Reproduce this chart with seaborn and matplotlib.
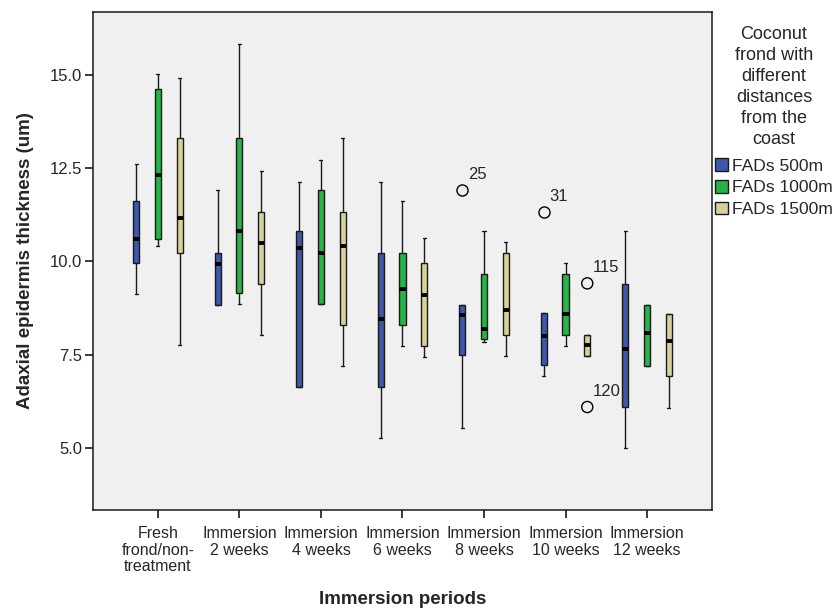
import pandas as pd
import matplotlib.pyplot as plt
import matplotlib.patches as mpatches
import seaborn as sns

periods = [
    "Fresh\nfrond/non-\ntreatment",
    "Immersion\n2 weeks",
    "Immersion\n4 weeks",
    "Immersion\n6 weeks",
    "Immersion\n8 weeks",
    "Immersion\n10 weeks",
    "Immersion\n12 weeks",
]
distances = ["FADs 500m", "FADs 1000m", "FADs 1500m"]
colors = ["#3F57A8", "#25B445", "#D6D19B"]
legend_title = "Coconut\nfrond with\ndifferent\ndistances\nfrom the\ncoast"

# five-number summaries per period: min, Q1, median, Q3, max (whisker ends)
fads_500 = [
    [9.13, 9.95, 10.61, 11.61, 12.61],
    [8.83, 8.83, 9.94, 10.23, 11.91],
    [6.63, 6.63, 10.37, 10.81, 12.12],
    [5.27, 6.63, 8.45, 10.22, 12.12],
    [5.55, 7.49, 8.57, 8.84, 8.84],
    [6.92, 7.22, 8.01, 8.61, 8.61],
    [5.00, 6.09, 7.64, 9.40, 10.81],
]
fads_1000 = [
    [10.41, 10.61, 12.31, 14.61, 15.01],
    [8.85, 9.14, 10.81, 13.30, 15.81],
    [8.85, 8.85, 10.22, 11.91, 12.71],
    [7.74, 8.29, 9.25, 10.22, 11.62],
    [7.84, 7.92, 8.18, 9.67, 10.81],
    [7.74, 8.02, 8.59, 9.67, 9.95],
    [7.20, 7.20, 8.07, 8.84, 8.84],
]
fads_1500 = [
    [7.75, 10.23, 11.17, 13.30, 14.91],
    [8.03, 9.40, 10.50, 11.31, 12.41],
    [7.20, 8.29, 10.42, 11.32, 13.31],
    [7.43, 7.74, 9.11, 9.96, 10.62],
    [7.47, 8.02, 8.71, 10.22, 10.51],
    [7.47, 7.47, 7.75, 8.03, 8.03],
    [6.08, 6.92, 7.88, 8.58, 8.58],
]

# outliers (case numbers as labels)
out_period = [periods[4], periods[5], periods[5], periods[5]]
out_distance = ["FADs 500m", "FADs 500m", "FADs 1500m", "FADs 1500m"]
out_value = [11.90, 11.31, 9.41, 6.10]
out_label = ["25", "31", "115", "120"]

rows = []
for dist, summaries in zip(distances, [fads_500, fads_1000, fads_1500]):
    for period, five in zip(periods, summaries):
        for v in five:
            rows.append({"period": period, "distance": dist, "value": v})
df = pd.DataFrame(rows)

outliers = pd.DataFrame({"period": out_period, "distance": out_distance,
                         "value": out_value, "label": out_label})

sns.set_style("ticks")
plt.rcParams["font.family"] = ["Liberation Sans", "DejaVu Sans"]

fig, ax = plt.subplots(figsize=(8.35, 6.09), dpi=100)
fig.subplots_adjust(left=0.111, right=0.853, top=0.980, bottom=0.163)
ax.set_facecolor("#F0F0F0")

sns.boxplot(
    data=df, x="period", y="value", hue="distance",
    order=periods, hue_order=distances, palette=colors, saturation=1,
    whis=(0, 100), width=0.8, gap=0.72, fliersize=0,
    linecolor="#1a1a1a", linewidth=1,
    medianprops=dict(color="black", linewidth=2.8),
    whiskerprops=dict(color="#1a1a1a", linewidth=1),
    capprops=dict(color="#1a1a1a", linewidth=1),
    legend=False, ax=ax,
)

n_before = len(ax.collections)
sns.stripplot(
    data=outliers, x="period", y="value", hue="distance",
    order=periods, hue_order=distances,
    palette=["#F0F0F0"] * 3, dodge=True, jitter=False,
    size=8, edgecolor="black", linewidth=1, legend=False, ax=ax,
)

# label outliers with their case numbers
lookup = dict(zip(out_value, out_label))
for coll in ax.collections[n_before:]:
    for x, y in coll.get_offsets():
        lab = lookup.get(round(float(y), 2))
        if lab:
            ax.annotate(lab, xy=(x, y), xytext=(4, 6), textcoords="offset points",
                        ha="left", va="bottom", fontsize=12)

ax.set_xlim(-0.8, 6.8)
ax.set_ylim(3.35, 16.67)
ax.set_yticks([5.0, 7.5, 10.0, 12.5, 15.0])
ax.set_yticklabels(["5.0", "7.5", "10.0", "12.5", "15.0"])

for s in ax.spines.values():
    s.set_visible(True)
    s.set_linewidth(1.1)
    s.set_color("#1a1a1a")

ax.tick_params(axis="both", direction="out", length=6, width=1.2, color="#1a1a1a")
ax.tick_params(axis="y", labelsize=12, pad=1.5)
ax.tick_params(axis="x", labelsize=11.5, pad=6)
for t in ax.get_xticklabels():
    t.set_linespacing(1.12)

ax.set_xlabel("Immersion periods", fontsize=13.5, fontweight="bold")
ax.set_ylabel("Adaxial epidermis thickness (um)", fontsize=13.5, fontweight="bold")
ax.xaxis.set_label_coords(0.5, -0.164)
ax.yaxis.set_label_coords(-0.094, 0.5)

# legend title drawn as its own centred text block, entries below it
fig.text(774 / 835, 1 - 26 / 609, legend_title, ha="center", va="top",
         fontsize=13, linespacing=1.3, multialignment="center")

handles = [mpatches.Patch(facecolor=c, edgecolor="#1a1a1a", linewidth=1) for c in colors]
fig.legend(
    handles, distances,
    loc="upper left", bbox_to_anchor=(715 / 835, 1 - 158 / 609),
    frameon=False, fontsize=12.6,
    handlelength=0.75, handleheight=0.75, handletextpad=0.25,
    labelspacing=0.36, borderpad=0, borderaxespad=0,
)

fig.savefig("out.png", dpi=100)
